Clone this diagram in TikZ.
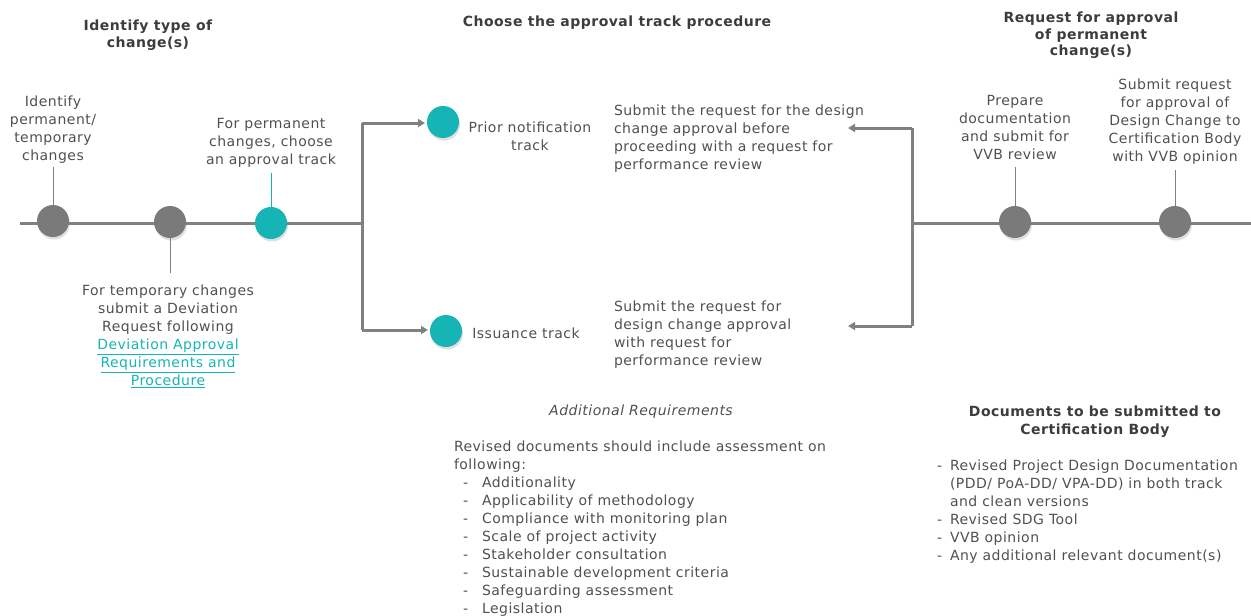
\documentclass[tikz,border=0pt]{standalone}
\usepackage{fontspec}
\setmainfont{DejaVu Sans}[LetterSpace=3.5]
\usetikzlibrary{arrows.meta,shadows}
\definecolor{tealc}{RGB}{22,180,180}
\definecolor{circgray}{RGB}{122,122,122}
\definecolor{linegray}{RGB}{128,128,128}
\definecolor{txt}{RGB}{80,80,80}
\definecolor{head}{RGB}{60,60,60}
\begin{document}
\begin{tikzpicture}[x=1pt,y=-1pt,
  every node/.style={inner sep=0pt,outer sep=0pt,text=txt},
  body/.style={font=\fontsize{14}{18}\selectfont,align=center,anchor=north},
  bodyl/.style={font=\fontsize{14}{18}\selectfont,align=left,anchor=north west},
  heading/.style={font=\fontsize{14}{16.5}\selectfont\bfseries,align=center,anchor=north,text=head},
  dot/.style={circle,minimum size=32pt,draw=none,drop shadow={opacity=0.25,shadow xshift=1pt,shadow yshift=-2.5pt}},
  graydot/.style={dot,fill=circgray},
  tealdot/.style={dot,fill=tealc},
  mainline/.style={draw=linegray,line width=3pt},
  pin/.style={draw=linegray,line width=0.8pt},
  tealpin/.style={draw=tealc,line width=0.8pt},
  arr/.style={draw=linegray,line width=3pt,-{Triangle[length=7pt,width=8pt]}}
]
\useasboundingbox (0,0) rectangle (1251,616);
% headings
\node[heading] (h1) at (148,20) {Identify type of\\change(s)};
\node[heading] (h2) at (617,16) {Choose the approval track procedure};
\node[heading] (h3) at (1091,12) {Request for approval\\of permanent\\change(s)};
% timelines
\coordinate (lstart) at (20,223);
\coordinate (split) at (362,223);
\coordinate (rjoin) at (912,223);
\coordinate (rend) at (1251,223);
\draw[mainline] (lstart) -- (split);
\draw[mainline] (rjoin) -- (rend);
\node[graydot] (c1) at (53,221) {};
\node[graydot] (c2) at (170,222) {};
\node[tealdot] (c3) at (271,223) {};
\node[graydot] (c4) at (1015,222) {};
\node[graydot] (c5) at (1175,222) {};
% texts on timeline
\node[body] (t1) at (53,96) {Identify\\permanent/\\temporary\\changes};
\node[body] (t3) at (271,118) {For permanent\\changes, choose\\an approval track};
\node[body] (t2) at (168,285) {For temporary changes\\submit a Deviation\\Request following\\{\color{tealc}\underline{Deviation Approval}}\\{\color{tealc}\underline{Requirements and}}\\{\color{tealc}\underline{Procedure}}};
\node[body] (t4) at (1015,95) {Prepare\\documentation\\and submit for\\VVB review};
\node[body] (t5) at (1175,79) {Submit request\\for approval of\\Design Change to\\Certification Body\\with VVB opinion};
% pins
\draw[pin] (c1.north) -- ([yshift=-3pt]t1.south);
\coordinate (p2) at (170,273);
\draw[pin] (c2.south) -- (p2);
\draw[tealpin] (c3.north) -- ([yshift=-6pt]t3.south);
\draw[pin] (c4.north) -- ([yshift=-8pt]t4.south);
\draw[pin] (c5.north) -- ([yshift=-5pt]t5.south);
% branches
\node[tealdot] (pn) at (443,122) {};
\node[tealdot] (is) at (446,331) {};
\coordinate (splitTop) at (362,123);
\coordinate (splitBot) at (362,330);
\draw[mainline] (splitTop) -- (splitBot);
\draw[arr] (splitTop) -- (425,123);
\draw[arr] (splitBot) -- (428,330);
\node[body] (pnt) at (530,122) {Prior notification\\track};
\node[body,anchor=center] (ist) at (526,333) {Issuance track};
\node[bodyl] (s1) at (614,105) {Submit the request for the design\\change approval before\\proceeding with a request for\\performance review};
\node[bodyl] (s2) at (614,301) {Submit the request for\\design change approval\\with request for\\performance review};
\coordinate (rTop) at (912,128);
\coordinate (rBot) at (912,326);
\draw[mainline] (rTop) -- (rBot);
\draw[arr] (rTop) -- (848,128);
\draw[arr] (rBot) -- (848,326);
% additional requirements
\node[body,font=\fontsize{14}{18}\selectfont\itshape] (ar) at (641,405) {Additional Requirements};
\node[bodyl] (arl) at (454,441) {Revised documents should include assessment on\\following:\\
\makebox[28pt][l]{\hspace{9pt}-}Additionality\\
\makebox[28pt][l]{\hspace{9pt}-}Applicability of methodology\\
\makebox[28pt][l]{\hspace{9pt}-}Compliance with monitoring plan\\
\makebox[28pt][l]{\hspace{9pt}-}Scale of project activity\\
\makebox[28pt][l]{\hspace{9pt}-}Stakeholder consultation\\
\makebox[28pt][l]{\hspace{9pt}-}Sustainable development criteria\\
\makebox[28pt][l]{\hspace{9pt}-}Safeguarding assessment\\
\makebox[28pt][l]{\hspace{9pt}-}Legislation};
% documents
\node[heading,font=\fontsize{14}{18}\selectfont\bfseries] (dh) at (1095,406) {Documents to be submitted to\\Certification Body};
\node[bodyl] (dl) at (932,460) {\makebox[18pt][l]{\hspace{5pt}-}Revised Project Design Documentation\\
\hspace*{18pt}(PDD/ PoA-DD/ VPA-DD) in both track\\
\hspace*{18pt}and clean versions\\
\makebox[18pt][l]{\hspace{5pt}-}Revised SDG Tool\\
\makebox[18pt][l]{\hspace{5pt}-}VVB opinion\\
\makebox[18pt][l]{\hspace{5pt}-}Any additional relevant document(s)};
\end{tikzpicture}
\end{document}
